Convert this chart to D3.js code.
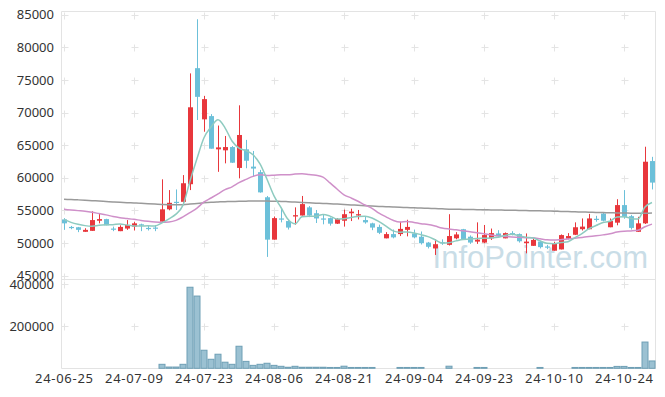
<!DOCTYPE html>
<html><head><meta charset="utf-8">
<script src="https://cdn.jsdelivr.net/npm/d3@7"></script>
<style>body{margin:0;background:#fff}svg{display:block}</style>
</head><body><svg id="c" width="665" height="397"></svg>
<script>
const dates = ["24-06-25","24-06-26","24-06-27","24-06-28","24-07-01","24-07-02","24-07-03","24-07-04","24-07-05","24-07-08",
"24-07-09","24-07-10","24-07-11","24-07-12","24-07-15","24-07-16","24-07-17","24-07-18","24-07-19","24-07-22",
"24-07-23","24-07-24","24-07-25","24-07-26","24-07-29","24-07-30","24-07-31","24-08-01","24-08-02","24-08-05",
"24-08-06","24-08-07","24-08-08","24-08-09","24-08-12","24-08-13","24-08-14","24-08-16","24-08-19","24-08-20",
"24-08-21","24-08-22","24-08-23","24-08-26","24-08-27","24-08-28","24-08-29","24-08-30","24-09-02","24-09-03",
"24-09-04","24-09-05","24-09-06","24-09-09","24-09-10","24-09-11","24-09-12","24-09-13","24-09-19","24-09-20",
"24-09-23","24-09-24","24-09-25","24-09-26","24-09-27","24-09-30","24-10-02","24-10-04","24-10-07","24-10-08",
"24-10-10","24-10-11","24-10-14","24-10-15","24-10-16","24-10-17","24-10-18","24-10-21","24-10-22","24-10-23",
"24-10-24","24-10-25","24-10-28","24-10-29","24-10-30"];
const open = [53600,52450,52400,51700,51850,53400,53650,52200,51800,52200,52500,52850,52300,52350,53250,55150,56300,56300,59000,76800,
68950,69450,64350,64200,64700,61500,64350,61700,60850,57000,50500,53750,53350,54050,54200,55450,54550,53750,53800,52950,
53400,54550,54200,53500,53000,52450,50700,51350,51350,52000,51450,50950,50050,49150,50100,49700,50700,52100,50950,50200,
50050,50700,51450,50700,51500,51350,49950,49550,50200,49450,48800,49000,50650,51250,52100,52100,53700,54500,52400,53100,
55800,54100,51700,53000,62550];
const high = [53800,52600,52450,52250,54850,54450,53700,52500,52700,53500,53250,52950,52600,52750,59750,58100,58200,60400,76000,84300,
72550,69750,68000,66400,64850,71100,65800,64100,61200,57200,54050,55250,53650,55450,57200,55650,55050,54300,53900,53800,
55100,55250,55050,54050,53100,52800,51650,52050,53250,53550,52050,51750,50150,50550,50550,54400,51650,52150,51150,53150,
52750,52200,51950,51600,51800,51450,51450,50700,50350,49700,50150,51300,51500,53150,53750,54450,54150,54650,53750,56700,
58100,54300,54000,64750,63200];
const low = [52000,52100,51650,51700,51850,53000,52700,51800,51800,52000,51900,51800,51900,51800,53100,55000,55050,56150,58100,68850,
67050,64450,60900,62200,62250,59900,61450,60150,57700,47850,50500,53150,52050,52800,54200,53950,53050,52850,52650,52900,
52500,53350,53600,52950,51950,51350,50700,50700,51050,51000,50700,49750,49150,48150,49700,49600,50550,50450,49850,49850,
49950,50450,50850,50700,51150,50050,48400,49550,49150,49050,48800,49000,50550,51200,51900,52100,53250,53300,52400,52700,
53700,52050,51700,52900,58200];
const close = [53000,52350,52000,52000,53500,53650,52700,52150,52450,52750,53000,52650,52250,52300,55150,56150,56200,59150,70800,72400,
72050,64450,64650,64700,62300,66550,62600,61400,57750,50500,53800,53700,52350,54250,55950,54200,53750,53700,52950,53650,
54400,54800,54400,53150,52350,51550,51350,50850,52150,52450,50850,49950,49400,49800,50000,51050,51300,50550,50050,50500,
51200,51500,51050,51500,51300,50250,50200,50450,49350,49400,49950,51200,51050,52400,52500,53750,53600,53400,53350,55800,
53950,52300,53000,62450,59250];
const volume = [0,0,0,0,0,0,0,0,0,0,0,0,0,0,19000,6000,6000,19000,386000,344000,
86000,43000,67000,29000,19000,105000,33000,14000,19000,24000,14000,9500,5000,9500,5000,5000,5000,5000,4000,4000,
10000,4000,4000,4000,4000,0,0,0,4000,4000,4000,4000,0,0,0,10000,0,0,0,4000,
4000,0,0,0,0,0,0,0,4000,0,0,0,0,4000,4000,4000,4000,4000,4000,9000,
9000,4000,4000,125000,35000];
const ma5 = [53600,53150,52850,52650,52570,52700,52770,52800,52890,52740,52610,52600,52620,52590,53070,53700,54410,55790,59490,62940,
66120,67770,68870,67650,65630,64530,64160,63510,62120,59760,57210,55430,53620,52920,54010,54090,54100,54370,54110,53650,
53690,53900,54040,54080,53820,53250,52560,51850,51650,51670,51530,51250,50960,50490,50000,50040,50310,50540,50590,50690,
50720,50760,50860,51150,51310,51120,50860,50740,50310,49930,49870,50070,50190,50800,51420,52180,52660,53130,53320,53980,
54020,53760,53680,55500,56190];
const ma20 = [55150,55050,54950,54850,54700,54500,54300,54050,53870,53750,53620,53450,53310,53200,53150,53200,53450,54000,54650,55330,
56280,56890,57520,58160,58600,59240,59740,60200,60460,60350,60390,60440,60450,60550,60590,60490,60370,60090,59200,58260,
57380,56900,56390,55810,55310,54560,54000,53470,53190,53290,53140,52950,52810,52580,52290,52130,52010,51850,51700,51550,
51390,51220,51050,50970,50920,50850,50800,50780,50640,50480,50440,50500,50580,50710,50840,50970,51090,51230,51400,51660,
51800,51840,51940,52480,52880];
const ma60 = [56700,56650,56600,56550,56480,56420,56350,56280,56220,56170,56120,56070,56000,55950,55900,55870,55860,55870,55950,56050,
56150,56230,56280,56320,56350,56380,56400,56420,56420,56410,56390,56360,56320,56270,56200,56150,56100,56050,56000,55950,
55900,55830,55770,55700,55650,55600,55550,55500,55460,55420,55380,55340,55300,55260,55220,55180,55160,55140,55120,55100,
55080,55060,55040,55020,55000,54980,54960,54940,54920,54890,54860,54830,54800,54770,54740,54710,54680,54650,54620,54600,
54580,54560,54550,54560,54600];
const priceTicks = [45000,50000,55000,60000,65000,70000,75000,80000,85000];
const volTicks = [200000,400000];
const dateTickIdx = [0,10,20,30,40,50,60,70,80];

const svg = d3.select("#c");
const L = 61.5, R = 655.5, T = 11.5, SEP = 279.5, B = 368.5;
const x = d3.scaleBand().domain(dates).range([60.5, 655.5]).padding(0);
const cx = d => x(d) + x.bandwidth()/2;
const y = d3.scaleLinear().domain([45000, 85000]).range([275.5, 14.7]);
const yv = d3.scaleLinear().domain([0, 400000]).range([368.3, 284.3]);
const font = "'Noto Sans', sans-serif";

// frame
const frame = svg.append("g").attr("stroke", "#e3e3e3").attr("fill", "none");
frame.append("line").attr("x1", L).attr("x2", R).attr("y1", T).attr("y2", T);
frame.append("line").attr("x1", L).attr("x2", L).attr("y1", T).attr("y2", B);
frame.append("line").attr("x1", R).attr("x2", R).attr("y1", T).attr("y2", B);
frame.append("line").attr("x1", L).attr("x2", R).attr("y1", SEP).attr("y2", SEP);
frame.append("line").attr("x1", L).attr("x2", R).attr("y1", B).attr("y2", B);

// grid crosses
const cross = svg.append("g").attr("stroke", "#e4e4e4").attr("stroke-width", 1);
const tickX = dateTickIdx.map(i => Math.round(cx(dates[i])) + 0.5);
const tickY = priceTicks.map(v => Math.round(y(v)) + 0.5).concat(volTicks.map(v => Math.round(yv(v)) + 0.5));
tickX.forEach(tx => tickY.forEach(ty => {
  cross.append("line").attr("x1", tx-3).attr("x2", tx+4).attr("y1", ty).attr("y2", ty);
  cross.append("line").attr("x1", tx).attr("x2", tx).attr("y1", ty-3).attr("y2", ty+4);
}));

// watermark
svg.append("text").attr("x", 648).attr("y", 268).attr("text-anchor", "end")
  .attr("font-family", "'Liberation Sans', Arial, sans-serif").attr("font-size", 31)
  .attr("fill", "#c9dde7").text("InfoPointer.com");

// volume bars
const vdata = dates.map((d, i) => ({d, v: volume[i]})).filter(e => e.v > 0);
svg.append("g").selectAll("rect").data(vdata).join("rect")
  .attr("x", e => x(e.d) + 0.5).attr("width", x.bandwidth() - 1)
  .attr("y", e => yv(e.v)).attr("height", e => yv(0) - yv(e.v))
  .attr("fill", "#9bc1d2").attr("stroke", "#6e9fb5").attr("stroke-width", 1);

// candles
const up = "#e8373c", down = "#6cc0d9";
const cg = svg.append("g");
dates.forEach((d, i) => {
  const col = close[i] >= open[i] ? up : down;
  const xc = Math.round(cx(d));
  cg.append("line").attr("x1", xc + 0.5).attr("x2", xc + 0.5)
    .attr("y1", y(high[i])).attr("y2", y(low[i])).attr("stroke", col).attr("stroke-width", 1);
  const top = y(Math.max(open[i], close[i])), bot = y(Math.min(open[i], close[i]));
  cg.append("rect").attr("x", xc - 2).attr("width", 5)
    .attr("y", top).attr("height", Math.max(1.2, bot - top)).attr("fill", col);
});

// moving averages
const line = arr => d3.line().x((v, i) => cx(dates[i])).y(v => y(v)).curve(d3.curveMonotoneX)(arr);
svg.append("path").attr("d", line(ma60)).attr("fill", "none").attr("stroke", "#9a9a9a").attr("stroke-width", 1.5);
svg.append("path").attr("d", line(ma20)).attr("fill", "none").attr("stroke", "#cf90c9").attr("stroke-width", 1.5);
svg.append("path").attr("d", line(ma5)).attr("fill", "none").attr("stroke", "#8ecbc0").attr("stroke-width", 1.5);

// axis labels
const lab = svg.append("g").attr("font-family", font).attr("font-size", 13).attr("fill", "#333");
priceTicks.forEach(v => lab.append("text").attr("x", 54).attr("y", y(v)).attr("dy", "0.36em")
  .attr("text-anchor", "end").text(v));
volTicks.forEach(v => lab.append("text").attr("x", 54).attr("y", yv(v)).attr("dy", "0.36em")
  .attr("text-anchor", "end").text(v));
dateTickIdx.forEach(i => lab.append("text").attr("x", cx(dates[i])).attr("y", 383)
  .attr("text-anchor", "middle").attr("textLength", 58).attr("lengthAdjust", "spacing").text(dates[i]));
</script></body></html>
